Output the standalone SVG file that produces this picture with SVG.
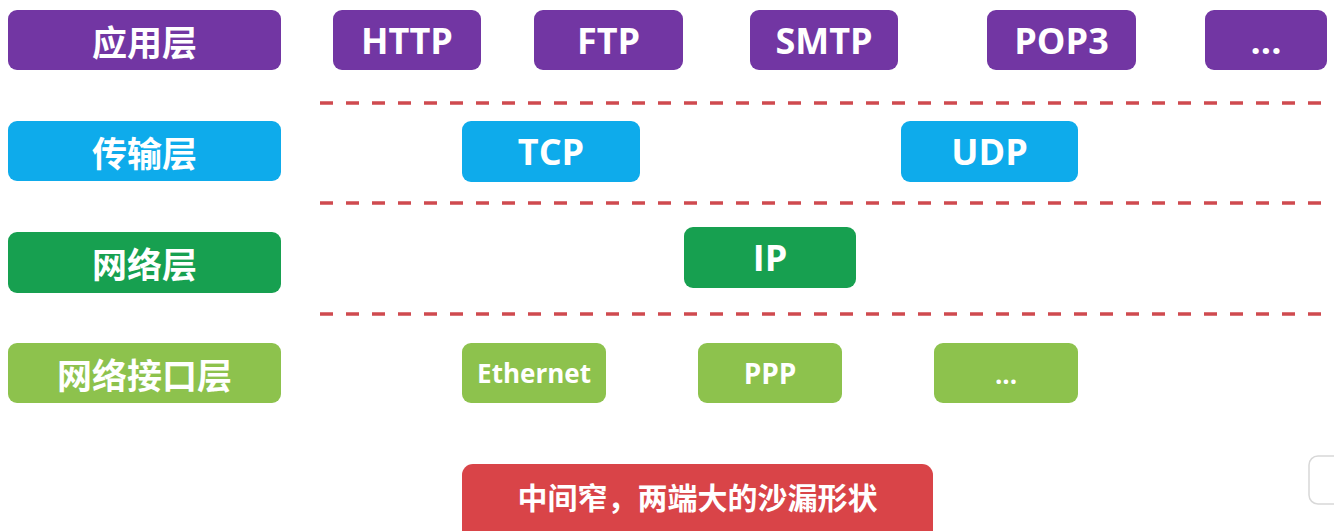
<svg xmlns="http://www.w3.org/2000/svg" width="1334" height="531" viewBox="0 0 1334 531">
  <style>
    .box { stroke: none; }
    .app { fill: #7236a3; }
    .trans { fill: #0eabeb; }
    .net { fill: #17a050; }
    .link { fill: #8dc24d; }
    .note { fill: #d94448; }
    .t { fill: #ffffff; font-family: "Open Sans", "Noto Sans CJK SC", sans-serif; font-weight: bold; text-anchor: middle; dominant-baseline: central; }
    .cn { font-family: "Noto Sans CJK SC", sans-serif; font-size: 35px; }
    .en { font-size: 36px; }
    .sm { font-size: 26px; }
    .sep { stroke: #cf4a4f; stroke-width: 3.5; stroke-dasharray: 13 13; fill: none; }
  </style>
  <rect width="1334" height="531" fill="#ffffff"/>

  <!-- layer separators -->
  <g id="connectors">
    <line class="sep" x1="320" y1="103" x2="1340" y2="103"/>
    <line class="sep" x1="320" y1="203" x2="1340" y2="203"/>
    <line class="sep" x1="320" y1="314" x2="1340" y2="314"/>
  </g>

  <!-- application layer -->
  <g id="layer-app"><rect class="box app" x="8" y="10" width="273" height="60" rx="9"/><text class="t cn" x="144.5" y="40">应用层</text></g>
  <g id="http"><rect class="box app" x="333" y="10" width="148" height="60" rx="9"/><text class="t en" x="407" y="40">HTTP</text></g>
  <g id="ftp"><rect class="box app" x="534" y="10" width="149" height="60" rx="9"/><text class="t en" x="608.5" y="40">FTP</text></g>
  <g id="smtp"><rect class="box app" x="750" y="10" width="148" height="60" rx="9"/><text class="t en" x="824" y="40">SMTP</text></g>
  <g id="pop3"><rect class="box app" x="987" y="10" width="149" height="60" rx="9"/><text class="t en" x="1061.5" y="40">POP3</text></g>
  <g id="app-more"><rect class="box app" x="1205" y="10" width="122" height="60" rx="9"/><text class="t en" x="1266" y="40">...</text></g>

  <!-- transport layer -->
  <g id="layer-trans"><rect class="box trans" x="8" y="121" width="273" height="60" rx="9"/><text class="t cn" x="144.5" y="151">传输层</text></g>
  <g id="tcp"><rect class="box trans" x="462" y="121" width="178" height="61" rx="9"/><text class="t en" x="551" y="151">TCP</text></g>
  <g id="udp"><rect class="box trans" x="901" y="121" width="177" height="61" rx="9"/><text class="t en" x="989.5" y="151">UDP</text></g>

  <!-- network layer -->
  <g id="layer-net"><rect class="box net" x="8" y="232" width="273" height="61" rx="9"/><text class="t cn" x="144.5" y="262">网络层</text></g>
  <g id="ip"><rect class="box net" x="684" y="227" width="172" height="61" rx="9"/><text class="t en" x="770" y="257">IP</text></g>

  <!-- network interface layer -->
  <g id="layer-link"><rect class="box link" x="8" y="343" width="273" height="60" rx="9"/><text class="t cn" x="144.5" y="373">网络接口层</text></g>
  <g id="ethernet"><rect class="box link" x="462" y="343" width="144" height="60" rx="9"/><text class="t sm" x="534" y="373">Ethernet</text></g>
  <g id="ppp"><rect class="box link" x="698" y="343" width="144" height="60" rx="9"/><text class="t sm" x="770" y="373" style="font-size:28px">PPP</text></g>
  <g id="link-more"><rect class="box link" x="934" y="343" width="144" height="60" rx="9"/><text class="t sm" x="1006" y="374">...</text></g>

  <!-- summary -->
  <g id="summary"><rect class="box note" x="462" y="464" width="471" height="80" rx="11"/><text class="t cn" x="697.5" y="496" style="font-size:30px">中间窄，两端大的沙漏形状</text></g>

  <!-- small outlined panel at the right edge -->
  <rect x="1309" y="456" width="40" height="48" rx="9" fill="#ffffff" stroke="#d8d8d8" stroke-width="1.5"/>
</svg>
